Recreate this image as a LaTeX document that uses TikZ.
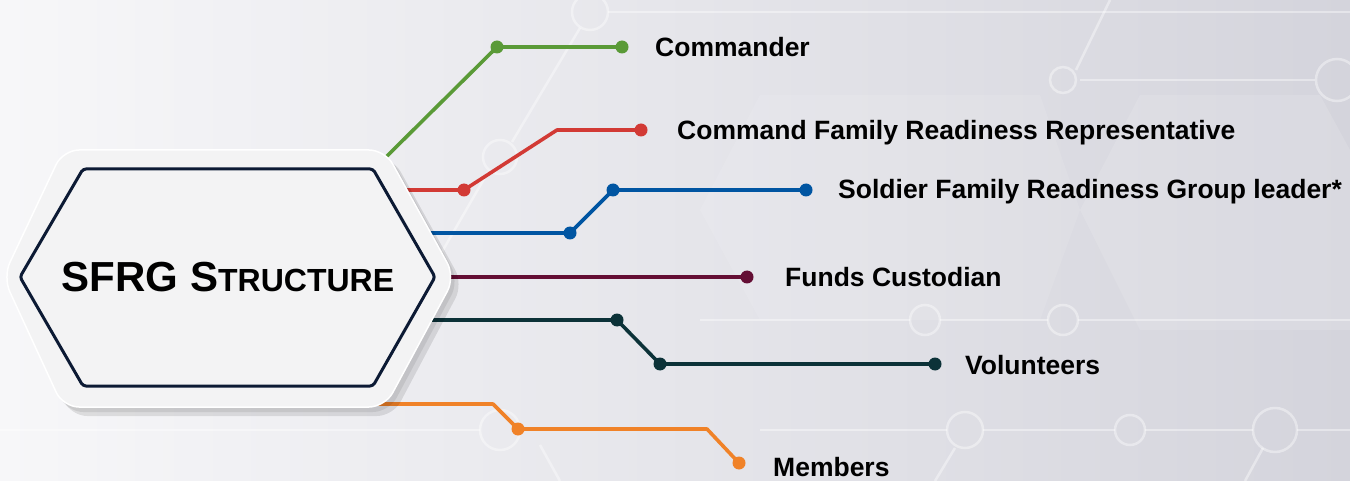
\documentclass[tikz,border=0pt]{standalone}
\usepackage{fontspec}
\setmainfont{Liberation Sans}
\definecolor{cgreen}{RGB}{90,154,55}
\definecolor{cred}{RGB}{210,58,53}
\definecolor{cblue}{RGB}{0,85,162}
\definecolor{cmaroon}{RGB}{100,14,52}
\definecolor{cteal}{RGB}{12,50,56}
\definecolor{corange}{RGB}{240,130,40}
\definecolor{cnavy}{RGB}{12,26,52}
\definecolor{bgl}{RGB}{247,247,249}
\definecolor{bgr}{RGB}{212,212,220}
\tikzset{
  conn/.style={line width=3.6pt, line join=round},
  dotmark/.style={circle, fill, inner sep=0pt, minimum size=13pt},
  lbl/.style={anchor=west, font=\fontsize{26.5}{30}\selectfont\bfseries, text=black, inner sep=0pt},
  net/.style={white, opacity=0.4, line width=2.5pt},
}
\begin{document}
\begin{tikzpicture}[x=1pt,y=-1pt]
\path[use as bounding box] (0,0) rectangle (1350,481);
\shade[left color=bgl, right color=bgr] (0,0) rectangle (1350,481);
% faint background network
\fill[white, opacity=0.12] (1140,95) -- (1320,95) -- (1350,150) -- (1350,330) -- (1140,330) -- (1080,210) -- cycle;
\fill[white, opacity=0.10] (760,95) -- (1040,95) -- (1080,210) -- (1040,320) -- (760,320) -- (700,210) -- cycle;
\draw[net] (608,12) -- (1350,12);
\draw[net] (580,28) -- (512,142);
\draw[net] (488,172) -- (420,290);
\draw[net] (1076,70) -- (1110,0);
\draw[net] (1080,80) -- (1315,80);
\draw[net] (940,320) -- (1048,320);
\draw[net] (1078,320) -- (1350,320);
\draw[net] (910,320) -- (700,320);
\draw[net] (983,430) -- (1115,430);
\draw[net] (1145,430) -- (1253,430);
\draw[net] (1297,430) -- (1350,430);
\draw[net] (947,430) -- (760,430);
\draw[net] (955,448) -- (935,481);
\draw[net] (1263,448) -- (1245,481);
\draw[net] (0,430) -- (480,430);
\draw[net] (540,445) -- (560,481);
\foreach \c/\r in {{(590,12)}/18,{(500,157)}/17,{(1063,80)}/13,{(1337,80)}/21,{(925,320)}/15,{(1063,320)}/15,{(965,430)}/18,{(1275,430)}/22,{(1130,430)}/15,{(500,430)}/20}
  \draw[net] \c circle (\r);
% anchor points
\coordinate (sG) at (380,163);
\coordinate (sR) at (395,190);
\coordinate (sB) at (410,233);
\coordinate (sM) at (420,277);
\coordinate (sT) at (410,320);
\coordinate (sO) at (370,404);
% dots
\node[dotmark, cgreen] (g1) at (497,47) {};
\node[dotmark, cgreen] (g2) at (622,47) {};
\node[dotmark, cred] (r1) at (464,190) {};
\coordinate (rc) at (557,130);
\node[dotmark, cred] (r2) at (641,130) {};
\node[dotmark, cblue] (b1) at (570,233) {};
\node[dotmark, cblue] (b2) at (613,190) {};
\node[dotmark, cblue] (b3) at (806,190) {};
\node[dotmark, cmaroon] (m1) at (747,277) {};
\node[dotmark, cteal] (t1) at (617,320) {};
\node[dotmark, cteal] (t2) at (660,364) {};
\node[dotmark, cteal] (t3) at (935,364) {};
\coordinate (oc1) at (493,404);
\node[dotmark, corange] (o1) at (518,429) {};
\coordinate (oc2) at (707,429);
\node[dotmark, corange] (o2) at (739,463) {};
% connectors
\draw[conn, cgreen] (sG) -- (g1.center) -- (g2.center);
\draw[conn, cred] (sR) -- (r1.center) -- (rc) -- (r2.center);
\draw[conn, cblue] (sB) -- (b1.center) -- (b2.center) -- (b3.center);
\draw[conn, cmaroon] (sM) -- (m1.center);
\draw[conn, cteal] (sT) -- (t1.center) -- (t2.center) -- (t3.center);
\draw[conn, corange] (sO) -- (oc1) -- (o1.center) -- (oc2) -- (o2.center);
% labels
\node[lbl] (lg) at (655,47) {Commander};
\node[lbl] (lr) at (677,133) {Command Family Readiness Representative};
\node[lbl] (lb) at (838,192) {Soldier Family Readiness Group leader*};
\node[lbl] (lm) at (785,277) {Funds Custodian};
\node[lbl] (lt) at (965,365) {Volunteers};
\node[lbl] (lo) at (773,467) {Members};
% hexagon
\fill[rounded corners=16pt, fill=black, opacity=0.10] (9,284) -- (71,158) -- (393,158) -- (463,284) -- (393,416) -- (71,416) -- cycle;
\fill[rounded corners=16pt, fill=black, opacity=0.08] (6,281) -- (67,154) -- (389,154) -- (459,281) -- (389,412) -- (67,412) -- cycle;
\fill[rounded corners=16pt, fill={rgb,255:red,243;green,243;blue,244}, draw=white, line width=1.5pt] (3,277) -- (63,150) -- (385,150) -- (455,277) -- (385,407) -- (63,407) -- cycle;
\draw[cnavy, line width=3pt, rounded corners=3pt] (20,277) -- (83,169) -- (373,169) -- (435,277) -- (373,386) -- (83,386) -- cycle;
\node[font=\bfseries, text=black, inner sep=0pt] (title) at (228,277) {\fontsize{42}{46}\selectfont SFRG S\fontsize{32}{36}\selectfont TRUCTURE};
\end{tikzpicture}
\end{document}
